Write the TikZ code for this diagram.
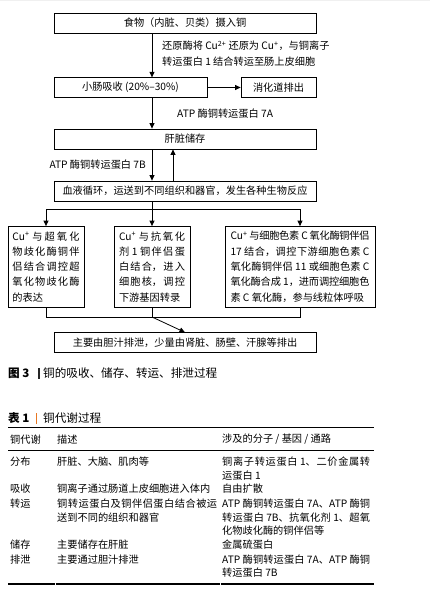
\documentclass[tikz,border=0pt]{standalone}
\usepackage{fontspec}
\setmainfont{Noto Sans CJK SC}
\usetikzlibrary{arrows.meta}
\XeTeXlinebreaklocale "zh"
\XeTeXlinebreakskip=0pt plus 2pt
\definecolor{capbar}{HTML}{E87722}
\newcommand{\jl}[2]{\parbox[b]{#1}{\tolerance=10000\hbadness=10000\hfuzz=30pt\XeTeXlinebreakpenalty=10000\XeTeXlinebreakskip=0pt plus 5pt minus 0.6pt\parfillskip=0pt\relax #2}}
\newcommand{\fsA}{\fontsize{10.2}{15.3}\selectfont}
\newcommand{\fsT}{\fontsize{10.2}{13.6}\selectfont}
\newcommand{\fsC}{\fontsize{11.6}{13}\selectfont}
\begin{document}
\begin{tikzpicture}[x=1pt,y=-1pt,
  box/.style={draw=black, line width=0.8pt, inner sep=0pt, font=\fsA},
  arr/.style={-{Triangle[length=5.5pt,width=5pt]}, line width=0.8pt},
  ln/.style={line width=0.8pt},
  lbl/.style={inner sep=0pt, font=\fsA},
  tx/.style={inner sep=0pt, anchor=west, font=\fsT},
  rule/.style={line width=1.4pt},
  thin/.style={line width=0.7pt}]
\useasboundingbox (0,0) rectangle (430,604);
\fill[gray!12] (0,0) rectangle (430,1.5);
% coordinates
\coordinate (spine) at (152,0);
\coordinate (up) at (173,0);
\coordinate (split) at (152,209);
\coordinate (merge) at (152,317);
% boxes
\node[box, minimum width=262pt, minimum height=20pt] (b1) at (185,23) {食物（内脏、贝类）摄入铜};
\node[box, minimum width=153pt, minimum height=19.5pt] (b2) at (130.5,87.5) {小肠吸收 (20\%–30\%)};
\node[box, minimum width=75pt, minimum height=19.5pt] (b3) at (278.5,87.5) {消化道排出};
\node[box, minimum width=262pt, minimum height=20pt] (b4) at (185,139) {肝脏储存};
\node[box, minimum width=262pt, minimum height=20pt] (b5) at (185,191) {\jl{245pt}{血液循环，运送到不同组织和器官，发生各种生物反应}};
\node[box, minimum width=76pt, minimum height=80.5pt, align=left] (b6) at (46,266.75) {%
  \jl{67pt}{Cu\textsuperscript{+}~与超氧化}\\
  \jl{67pt}{物歧化酶铜伴}\\
  \jl{67pt}{侣结合调控超}\\
  \jl{67pt}{氧化物歧化酶}\\
  \makebox[67pt][l]{的表达}};
\node[box, minimum width=76pt, minimum height=80.5pt, align=left] (b7) at (152,266.75) {%
  \jl{66pt}{Cu\textsuperscript{+}~与抗氧化}\\
  \jl{66pt}{剂~1~铜伴侣蛋}\\
  \jl{66pt}{白结合，进入}\\
  \jl{66pt}{细胞核，调控}\\
  \makebox[66pt][l]{下游基因转录}};
\node[box, minimum width=150pt, minimum height=80.5pt, align=left] (b8) at (300,266.75) {%
  \jl{139pt}{Cu\textsuperscript{+}~与细胞色素~C~氧化酶铜伴侣}\\
  \jl{139pt}{17~结合，调控下游细胞色素~C}\\
  \jl{139pt}{氧化酶铜伴侣~11~或细胞色素~C}\\
  \jl{139pt}{氧化酶合成~1，进而调控细胞色}\\
  \makebox[139pt][l]{素 C 氧化酶，参与线粒体呼吸}};
\node[box, minimum width=262pt, minimum height=19.5pt] (b9) at (185,342.5) {主要由胆汁排泄，少量由肾脏、肠壁、汗腺等排出};
% labels
\node[lbl, anchor=west, align=left, font=\fontsize{10.2}{16}\selectfont] (l1) at (162,54) {还原酶将 Cu\textsuperscript{2+} 还原为 Cu\textsuperscript{+}，与铜离子\\转运蛋白 1 结合转运至肠上皮细胞};
\node[lbl, anchor=west] (l2) at (177,114) {ATP 酶铜转运蛋白 7A};
\node[lbl, anchor=east] (l3) at (146,165) {ATP 酶铜转运蛋白 7B};
% connectors
\draw[arr] (b1.south -| spine) -- (b2.north -| spine);
\draw[arr] (b2.east) -- (b3.west);
\draw[arr] (b2.south -| spine) -- (b4.north -| spine);
\draw[arr] (b4.south -| spine) -- (b5.north -| spine);
\draw[arr] (b5.north -| up) -- (b4.south -| up);
\draw[ln] (b5.south -| spine) -- (split);
\draw[ln] (split -| b6.north) -- (split -| b8.north);
\draw[arr] (split -| b6.north) -- (b6.north);
\draw[arr] (split) -- (b7.north);
\draw[arr] (split -| b8.north) -- (b8.north);
\draw[ln] (b6.south) -- (merge -| b6.south) -- (merge -| b8.south) -- (b8.south);
\draw[ln] (b7.south) -- (merge);
\draw[arr] (merge) -- (b9.north);
% figure caption
\node[tx, font=\fsC\bfseries] (fc1) at (8,373) {图 3};
\fill[black!85] (38.2,367.5) rectangle (39.6,378.5);
\node[tx, font=\fsC] (fc2) at (43,373) {铜的吸收、储存、转运、排泄过程};
% table caption
\node[tx, font=\fsC\bfseries] (tc1) at (8,418) {表 1};
\fill[capbar] (35.8,412.5) rectangle (37.3,423.5);
\node[tx, font=\fsC] (tc2) at (43,418) {铜代谢过程};
% table rules
\draw[rule] (8,427.7) -- (374,427.7);
\draw[thin] (8,450) -- (374,450);
\draw[rule] (8,584) -- (54.5,584);
\draw[rule] (55.5,584) -- (219.5,584);
\draw[rule] (220.5,584) -- (374,584);
% header
\node[tx] (h1) at (10,439.5) {铜代谢};
\node[tx] (h2) at (57,439.5) {描述};
\node[tx] (h3) at (222,439.5) {涉及的分子 / 基因 / 通路};
% rows
\node[tx] (r1a) at (10,462) {分布};
\node[tx] (r1b) at (57,462) {肝脏、大脑、肌肉等};
\node[tx] (r1c) at (222,462) {\jl{148pt}{铜离子转运蛋白~1、二价金属转}};
\node[tx] (r1d) at (222,476) {运蛋白 1};
\node[tx] (r2a) at (10,489) {吸收};
\node[tx] (r2b) at (57,489) {铜离子通过肠道上皮细胞进入体内};
\node[tx] (r2c) at (222,489) {自由扩散};
\node[tx] (r3a) at (10,503.5) {转运};
\node[tx] (r3b) at (57,503.5) {\jl{160pt}{铜转运蛋白及铜伴侣蛋白结合被运}};
\node[tx] (r3c) at (57,517.3) {送到不同的组织和器官};
\node[tx] (r3d) at (222,503.5) {\jl{148pt}{ATP~酶铜转运蛋白~7A、ATP~酶铜}};
\node[tx] (r3e) at (222,517.3) {\jl{148pt}{转运蛋白~7B、抗氧化剂~1、超氧}};
\node[tx] (r3f) at (222,530.8) {化物歧化酶的铜伴侣等};
\node[tx] (r4a) at (10,544.5) {储存};
\node[tx] (r4b) at (57,544.5) {主要储存在肝脏};
\node[tx] (r4c) at (222,544.5) {金属硫蛋白};
\node[tx] (r5a) at (10,559.3) {排泄};
\node[tx] (r5b) at (57,559.3) {主要通过胆汁排泄};
\node[tx] (r5c) at (222,559.3) {\jl{148pt}{ATP~酶铜转运蛋白~7A、ATP~酶铜}};
\node[tx] (r5d) at (222,572.7) {转运蛋白 7B};
\end{tikzpicture}
\end{document}
